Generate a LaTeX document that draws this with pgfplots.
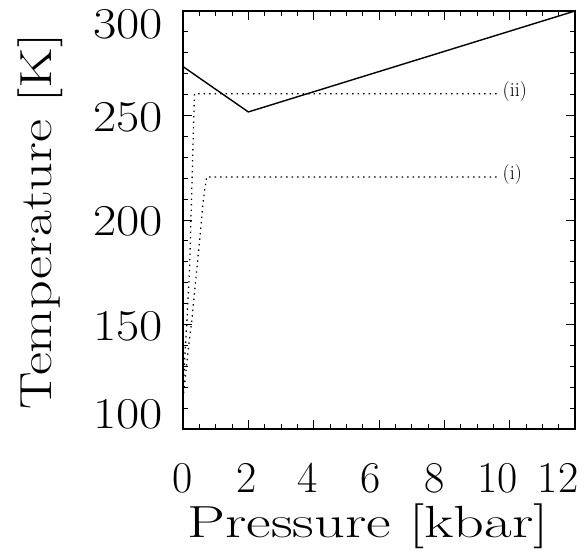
\documentclass[border=0pt]{standalone}
\usepackage{pgfplots}
\pgfplotsset{compat=1.18}
\usepackage{graphicx}
\newcommand{\yl}[2]{\raisebox{#1}[28pt][0pt]{\scalebox{1.15}[1]{#2}}}
\begin{document}
\begin{tikzpicture}
\useasboundingbox (-183pt,-127pt) rectangle (403pt,429pt);
\begin{axis}[
  scale only axis,
  width=392pt, height=418pt,
  xmin=0, xmax=12, ymin=100, ymax=300,
  xtick={0,2,4,6,8,10,12},
  xticklabels={0,\hspace*{-4pt}2,\hspace*{-12pt}4,\hspace*{-16pt}6,\hspace*{-20pt}8,\hspace*{-24pt}10,\hspace*{-34pt}12},
  ytick={100,150,200,250,300},
  yticklabels={\yl{14pt}{100},\yl{-2.5pt}{150},\yl{-2pt}{200},\yl{-2.5pt}{250},\yl{-14pt}{300}},
  minor x tick num=3,
  minor y tick num=4,
  major tick length=9pt,
  minor tick length=5pt,
  tick align=inside,
  axis line style={line width=1.1pt},
  every tick/.style={black, line width=0.9pt},
  every tick label/.append style={font=\fontsize{44}{50}\selectfont, inner sep=0pt},
  every x tick label/.append style={anchor=north},
  every y tick label/.append style={anchor=east},
  xticklabel shift=34pt,
  yticklabel shift=20pt,
  xlabel={\scalebox{1.34}[1]{Pressure [kbar]}},
  ylabel={\scalebox{1.25}[1]{Temperature [K]}},
  label style={font=\fontsize{45}{52}\selectfont, inner sep=0pt},
  xlabel style={at={(axis description cs:0.5,0)}, anchor=base, yshift=-108pt, xshift=-11pt},
  ylabel style={at={(axis description cs:0,0.5)}, anchor=base, yshift=131pt, xshift=-1.5pt},
  clip=false,
]
\addplot[black, line width=1.4pt] coordinates {(0,273.4) (2,251.7) (12,300)};
\addplot[black, line width=1.3pt, dash pattern=on 1.4pt off 4.1pt] coordinates {
  (9.6,260.4) (0.35,260.4) (0.27,215) (0.2,176) (0.12,152) (0.06,136) (0.01,119)};
\addplot[black, line width=1.3pt, dash pattern=on 1.4pt off 4.1pt] coordinates {
  (9.6,220.6) (0.72,220.6) (0.61,208) (0.52,192) (0.42,176) (0.27,152) (0.16,138) (0.02,117)};
\node[anchor=west, inner sep=0pt, font=\fontsize{20}{24}\selectfont] at (axis cs:9.78,261.5) {(ii)};
\node[anchor=west, inner sep=0pt, font=\fontsize{20}{24}\selectfont] at (axis cs:9.78,221.7) {(i)};
\end{axis}
\end{tikzpicture}
\end{document}
